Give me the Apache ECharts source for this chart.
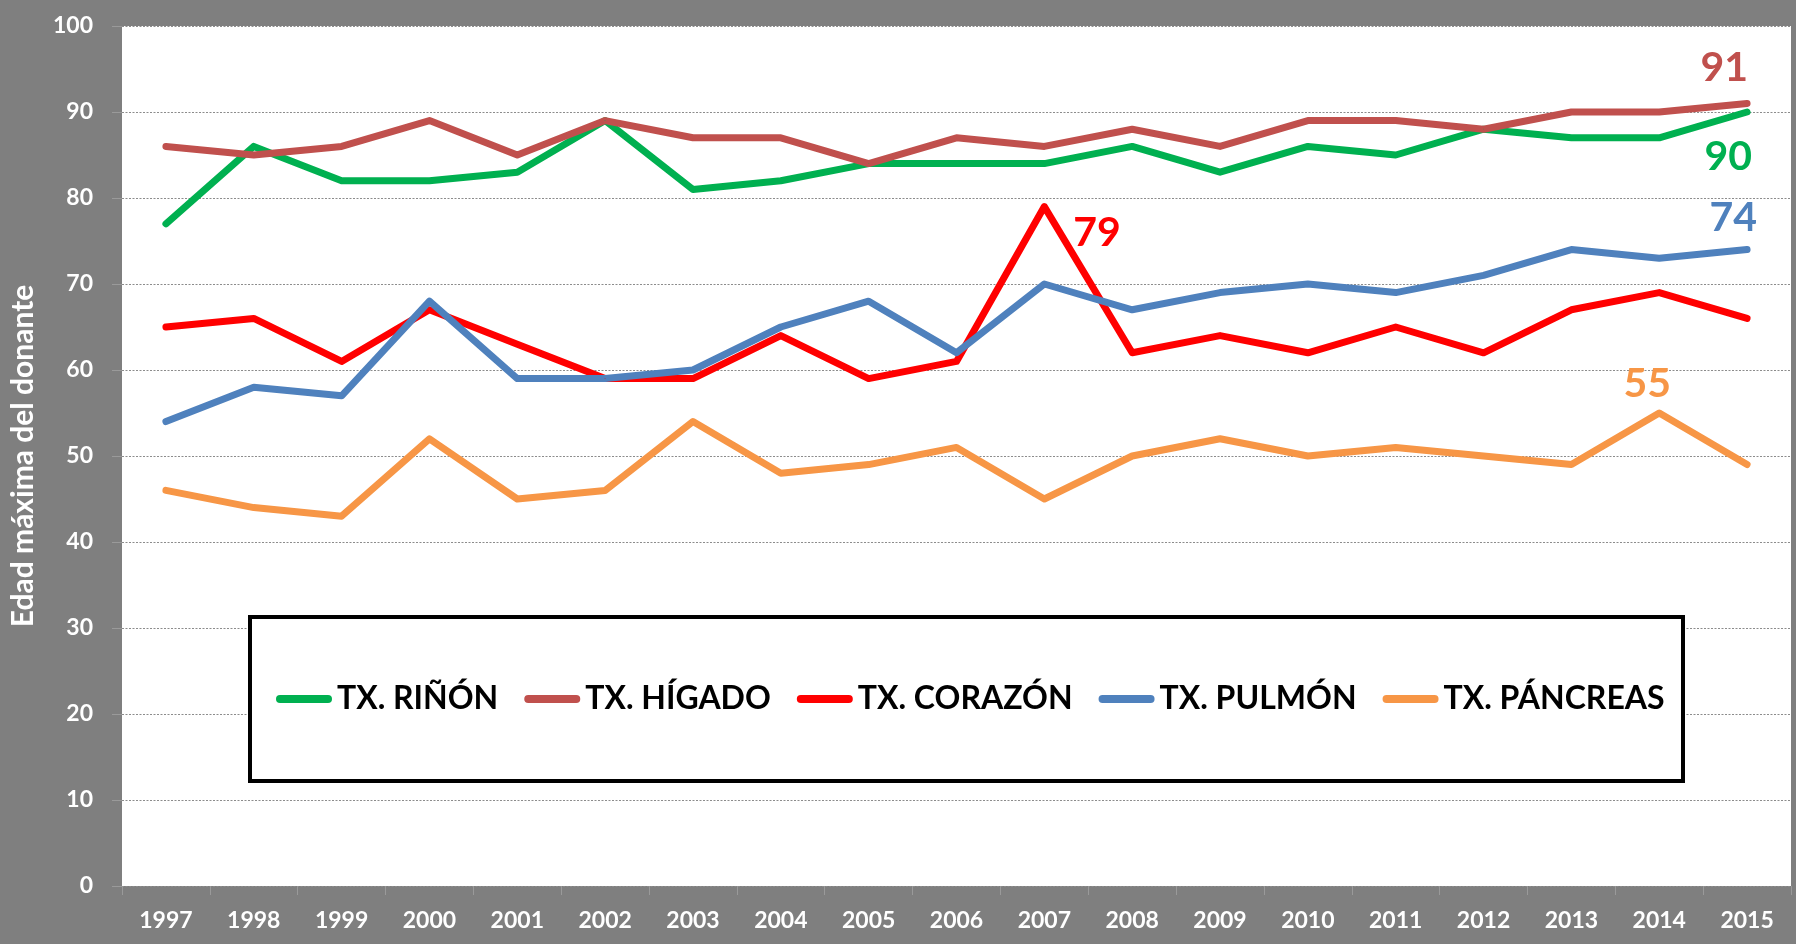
<!DOCTYPE html>
<html>
<head>
<meta charset="utf-8">
<script src="https://cdn.jsdelivr.net/npm/echarts@6/dist/echarts.min.js"></script>
<style>
html,body{margin:0;padding:0;background:#7f7f7f;}
#chart{width:1796px;height:944px;}
</style>
</head>
<body>
<div id="chart"></div>
<script>
const years = ['1997','1998','1999','2000','2001','2002','2003','2004','2005','2006','2007','2008','2009','2010','2011','2012','2013','2014','2015'];
const rinon    = [77,86,82,82,83,89,81,82,84,84,84,86,83,86,85,88,87,87,90];
const higado   = [86,85,86,89,85,89,87,87,84,87,86,88,86,89,89,88,90,90,91];
const corazon  = [65,66,61,67,63,59,59,64,59,61,79,62,64,62,65,62,67,69,66];
const pulmon   = [54,58,57,68,59,59,60,65,68,62,70,67,69,70,69,71,74,73,74];
const pancreas = [46,44,43,52,45,46,54,48,49,51,45,50,52,50,51,50,49,55,49];
const seriesNames = ['TX. RIÑÓN','TX. HÍGADO','TX. CORAZÓN','TX. PULMÓN','TX. PÁNCREAS'];
const yTicks = [0,10,20,30,40,50,60,70,80,90,100];
const yTitle = 'Edad máxima del donante';

const colors = ['#00B050','#C0504D','#FF0000','#4F81BD','#F79646'];
const FONT = 'Lato';

// which point of each series carries a value label, and its placement
const labelSpec = [
  {idx: 18, align: 'right', offset: [5, 45]},
  {idx: 18, align: 'right', offset: [1, -36]},
  {idx: 10, align: 'left', offset: [29, 26]},
  {idx: 18, align: 'right', offset: [10, -32]},
  {idx: 17, align: 'center', offset: [-12, -29]}
];
const allData = [rinon, higado, corazon, pulmon, pancreas];

const chart = echarts.init(document.getElementById('chart'), null, {renderer: 'canvas'});

const series = allData.map((arr, s) => ({
  name: seriesNames[s],
  type: 'line',
  symbol: 'circle',
  symbolSize: 1,
  showSymbol: true,
  smooth: false,
  animation: false,
  itemStyle: {color: colors[s]},
  lineStyle: {color: colors[s], width: 7, cap: 'round', join: 'round'},
  emphasis: {disabled: true},
  data: arr.map((v, i) => i === labelSpec[s].idx ? {
    value: v,
    label: {
      show: true,
      position: 'inside',
      align: labelSpec[s].align,
      verticalAlign: 'middle',
      offset: labelSpec[s].offset,
      color: colors[s],
      fontFamily: FONT,
      fontWeight: 'bold',
      fontSize: 41
    }
  } : v)
}));

const stadium = 'path://M4,0 L52,0 A4,4 0 0 1 52,8 L4,8 A4,4 0 0 1 4,0 Z';

chart.setOption({
  backgroundColor: '#7f7f7f',
  animation: false,
  grid: {
    left: 121, right: 5, top: 26, bottom: 58,
    show: true, backgroundColor: '#ffffff', borderWidth: 0
  },
  graphic: [{
    type: 'rect',
    z: 50,
    shape: {x: 250, y: 617, width: 1433, height: 164},
    style: {fill: '#ffffff', stroke: '#000000', lineWidth: 4}
  }],
  legend: {
    z: 60,
    left: 276,
    top: 683,
    padding: 0,
    itemWidth: 56,
    itemHeight: 8,
    itemGap: 26,
    icon: stadium,
    data: seriesNames,
    textStyle: {color: '#000000', fontFamily: FONT, fontWeight: 'bold', fontSize: 32}
  },
  xAxis: {
    type: 'category',
    data: years,
    boundaryGap: true,
    axisLine: {show: false},
    axisTick: {show: true, length: 9, lineStyle: {color: '#9a9a9a', width: 1}},
    axisLabel: {color: '#ffffff', fontFamily: FONT, fontWeight: 'bold', fontSize: 23, margin: 23},
    splitLine: {show: false}
  },
  yAxis: {
    type: 'value',
    min: 0, max: 100, interval: 10,
    name: yTitle,
    nameLocation: 'middle',
    nameGap: 84,
    nameRotate: 90,
    nameTextStyle: {color: '#ffffff', fontFamily: FONT, fontWeight: 'bold', fontSize: 30},
    axisLine: {show: false},
    axisTick: {show: true, length: 10, lineStyle: {color: '#9a9a9a', width: 1}},
    axisLabel: {
      color: '#ffffff', fontFamily: FONT, fontWeight: 'bold', fontSize: 23, margin: 29,
      formatter: v => yTicks.includes(v) ? String(v) : ''
    },
    splitLine: {show: true, lineStyle: {color: '#8c8c8c', width: 1.2, type: [2, 1.5]}}
  },
  series: series
});
</script>
</body>
</html>
